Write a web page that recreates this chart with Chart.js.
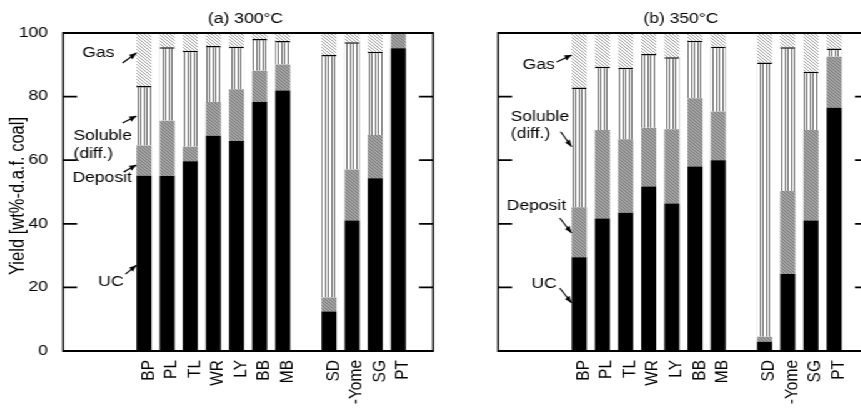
<!DOCTYPE html>
<html>
<head>
<meta charset="utf-8">
<script src="https://cdn.jsdelivr.net/npm/chart.js@4"></script>
<style>
  html, body { margin: 0; background: #fff; overflow: hidden; width: 861px; height: 410px; }
  /* the source figure is stretched sideways, so the charts are too */
  #wrap { position: relative; width: 700px; height: 470px; transform: scaleX(1.25); transform-origin: 0 0; }
  #c300 { position: absolute; left: 0; top: 0; }
  #c350 { position: absolute; left: 348px; top: 0; }
</style>
</head>
<body>
<div id="wrap">
  <canvas id="c300" width="352" height="470"></canvas>
  <canvas id="c350" width="352" height="470"></canvas>
</div>
<script>
const S = 1.25;
const FONT = '"Liberation Sans", Arial, sans-serif';

const coals = ['BP', 'PL', 'TL', 'WR', 'LY', 'BB', 'MB', 'SD', '-Yome', 'SG', 'PT'];
const yTicks = [0, 20, 40, 60, 80, 100];

// (a) 300°C, wt% d.a.f. coal
const uc300      = [55.1, 55.0, 59.7, 67.7, 66.0, 78.3, 81.9, 12.4, 41.0, 54.3, 95.2];
const deposit300 = [ 9.5, 17.4,  4.5, 10.6, 16.3,  9.8,  8.2,  4.4, 16.1, 13.6,  4.8];
const soluble300 = [18.7, 23.1, 30.2, 17.6, 13.4, 10.0,  7.4, 76.3, 40.0, 26.2,  0.0];
const gas300     = [16.7,  4.5,  5.6,  4.1,  4.3,  1.9,  2.5,  6.9,  2.9,  5.9,  0.0];

// (b) 350°C
const uc350      = [29.5, 41.7, 43.5, 51.7, 46.4, 58.0, 60.0,  2.9, 24.2, 41.0, 76.5];
const deposit350 = [15.7, 27.8, 23.1, 18.5, 23.3, 21.5, 15.3,  1.6, 26.1, 28.5, 16.0];
const soluble350 = [37.7, 19.9, 22.5, 23.2, 22.7, 18.1, 20.4, 86.2, 45.2, 18.3,  2.6];
const gas350     = [17.1, 10.6, 10.9,  6.6,  7.6,  2.4,  4.3,  9.3,  4.5, 12.2,  4.9];

// 3 empty slots, 7 coals, a gap, 4 coals, one empty slot
function slots(arr) {
  return [null, null, null, ...arr.slice(0, 7), null, ...arr.slice(7), null];
}

function makePattern(w, h, bg, fg, pts) {
  const c = document.createElement('canvas');
  c.width = w; c.height = h;
  const g = c.getContext('2d');
  g.fillStyle = bg; g.fillRect(0, 0, w, h);
  g.fillStyle = fg;
  pts.forEach(([x, y]) => g.fillRect(x, y, 1, 1));
  return g.createPattern(c, 'repeat');
}
const diag = [[0, 0], [1, 1], [2, 2]];
const gasFill = makePattern(3, 3, '#fff', '#a0a0a0', diag);
const depositFill = makePattern(3, 3, '#a4a4a4', '#7a7a7a', diag);
const solubleFill = makePattern(5, 1, '#fff', '#6e6e6e', [[0, 0], [2, 0]]);

// arrow labels: tip value on the BP bar, offsets in screen px
const notes300 = [
  { text: ['Gas'], tip: 93.7, tail: [-14, 10], at: [-22, 0], align: 'right' },
  { text: ['Soluble', '(diff.)'], tip: 73.9, tail: [-14, 7], at: [-63, 20.5], align: 'left' },
  { text: ['Deposit'], tip: 58.5, tail: [-13, 7], at: [-64, 13], align: 'left' },
  { text: ['UC'], tip: 27.0, tail: [-11, 9], at: [-13, 17], align: 'right' }
];
const notes350 = [
  { text: ['Gas'], tip: 93.1, tail: [-15, 7], at: [-17, 10], align: 'right' },
  { text: ['Soluble', '(diff.)'], tip: 64.2, tail: [-11, -15], at: [-61, -30], align: 'left' },
  { text: ['Deposit'], tip: 37.1, tail: [-12, -15], at: [-65, -27], align: 'left' },
  { text: ['UC'], tip: 15.1, tail: [-12, -15], at: [-15, -19], align: 'right' }
];

const panel = {
  id: 'panel',
  afterDraw(chart, args, opt) {
    const { ctx, chartArea: a } = chart;
    const x = chart.scales.x, y = chart.scales.y;
    ctx.save();
    ctx.strokeStyle = '#000';
    ctx.fillStyle = '#000';
    ctx.lineWidth = 1.8;
    ctx.beginPath();
    y.ticks.forEach(t => {
      const py = y.getPixelForValue(t.value);
      ctx.moveTo(a.left, py); ctx.lineTo(a.left + 14 / S, py);
      ctx.moveTo(a.right, py); ctx.lineTo(a.right - 14 / S, py);
    });
    ctx.moveTo(a.left, a.top); ctx.lineTo(a.right, a.top);
    ctx.moveTo(a.left, a.bottom); ctx.lineTo(a.right, a.bottom);
    ctx.stroke();
    ctx.lineWidth = 1.8 / S;
    ctx.beginPath();
    ctx.moveTo(a.left, a.top - 0.9); ctx.lineTo(a.left, a.bottom + 0.9);
    ctx.moveTo(a.right, a.top - 0.9); ctx.lineTo(a.right, a.bottom + 0.9);
    ctx.stroke();

    ctx.font = '14px ' + FONT;
    ctx.textAlign = 'center';
    ctx.textBaseline = 'middle';
    ctx.fillText(opt.title, (a.left + a.right) / 2 - 2, 19);

    if (opt.yTitle) {
      ctx.save();
      ctx.translate(14.4, 196);
      ctx.rotate(-Math.PI / 2);
      ctx.font = '16.5px ' + FONT;
      ctx.fillText(opt.yTitle, 0, 0);
      ctx.restore();
    }

    // category labels, read upwards, hanging from the axis
    ctx.font = '15.5px ' + FONT;
    ctx.textAlign = 'right';
    chart.data.labels.forEach((lab, i) => {
      if (!lab) return;
      ctx.save();
      ctx.translate(x.getPixelForValue(i) + 3.2, a.bottom + 9);
      ctx.rotate(-Math.PI / 2);
      ctx.fillText(lab, 0, 0);
      ctx.restore();
    });

    const bar = chart.getDatasetMeta(0).data[3];
    const tipX = bar.x - bar.width / 2;
    opt.notes.forEach(n => {
      const ty = y.getPixelForValue(n.tip);
      ctx.lineWidth = 1.1;
      ctx.beginPath();
      ctx.moveTo(tipX + n.tail[0] / S, ty + n.tail[1]);
      ctx.lineTo(tipX, ty);
      ctx.stroke();
      const len = Math.hypot(n.tail[0], n.tail[1]);
      const ux = -n.tail[0] / len, uy = -n.tail[1] / len;
      const hl = 7, hw = 2.8;
      ctx.beginPath();
      ctx.moveTo(tipX, ty);
      ctx.lineTo(tipX + (-ux * hl - uy * hw) / S, ty - uy * hl + ux * hw);
      ctx.lineTo(tipX + (-ux * hl + uy * hw) / S, ty - uy * hl - ux * hw);
      ctx.closePath();
      ctx.fill();
      ctx.font = '14px ' + FONT;
      ctx.textAlign = n.align;
      n.text.forEach((s, i) => ctx.fillText(s, tipX + n.at[0] / S, ty + n.at[1] + i * 17.5));
    });
    ctx.restore();
  }
};

function build(id, title, series, notes, yTitle, padRight) {
  const bar = { barPercentage: 0.65, categoryPercentage: 1 };
  return new Chart(document.getElementById(id), {
    type: 'bar',
    data: {
      labels: slots(coals).map(c => c || ''),
      datasets: [
        { label: 'UC', data: slots(series[0]), backgroundColor: '#000', ...bar },
        { label: 'Deposit', data: slots(series[1]), backgroundColor: depositFill, ...bar },
        { label: 'Soluble (diff.)', data: slots(series[2]), backgroundColor: solubleFill,
          borderColor: '#000', borderWidth: { top: 1.5, left: 0, right: 0, bottom: 0 }, ...bar },
        { label: 'Gas', data: slots(series[3]), backgroundColor: gasFill, ...bar }
      ]
    },
    options: {
      responsive: false,
      devicePixelRatio: 1,
      animation: false,
      layout: { padding: { left: 0, top: 33, right: padRight, bottom: 0 } },
      plugins: {
        legend: { display: false },
        tooltip: { enabled: false },
        panel: { title: title, yTitle: yTitle, notes: notes }
      },
      scales: {
        x: {
          stacked: true,
          grid: { display: false },
          border: { display: false },
          ticks: { display: false },
          afterFit: s => { s.height = 119; }
        },
        y: {
          stacked: true,
          min: 0, max: 100,
          afterBuildTicks: s => { s.ticks = yTicks.map(v => ({ value: v })); },
          grid: { display: false },
          border: { display: false },
          ticks: { display: !!yTitle, color: '#000', font: { family: FONT, size: 14 }, padding: 4 },
          afterFit: s => { s.width = 50.4; }
        }
      }
    },
    plugins: [panel]
  });
}

build('c300', '(a) 300°C', [uc300, deposit300, soluble300, gas300], notes300, 'Yield [wt%-d.a.f. coal]', 5.6);
build('c350', '(b) 350°C', [uc350, deposit350, soluble350, gas350], notes350, null, 4.8);
</script>
</body>
</html>
